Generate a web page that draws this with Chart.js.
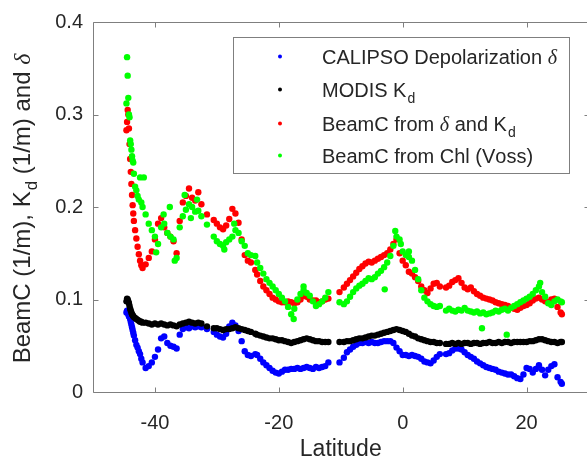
<!DOCTYPE html>
<html><head><meta charset="utf-8">
<script src="https://cdn.jsdelivr.net/npm/chart.js@4/dist/chart.umd.min.js"></script>
<style>html,body{margin:0;padding:0;background:#fff;overflow:hidden;width:587px;height:461px}canvas{display:block}</style>
</head><body><canvas id="c" width="600" height="461"></canvas>
<script>
const latitude = [
-44.6,-44.5,-44.4,-44.3,-44.2,-44.1,-44.0,-43.9,-43.8,-43.7,-43.6,-43.5,-43.4,-43.2,-43.0,-42.8,-42.6,-42.4,-42.2,-42.0,
-41.5,-41,-40.5,-40,-39.5,-39,-38.5,-38,-37.5,-37,-36.5,-36,-35.5,-35,-34.5,-34,-33.5,-33,-32.5,
-31.6,
-30.5,-30,-29.5,-29,-28.5,-28,-27.5,-27,-26.5,-26,-25.5,-25,-24.5,
-23.8,-23.5,-23,-22.5,-22,-21.5,-21,-20.5,-20,-19.5,-19,-18.5,-18,-17.5,-17,-16.5,-16,-15.5,-15,-14.5,-14,-13.5,-13,-12.5,-12,
-10.2,-9.5,-9,-8.5,-8,-7.5,-7,-6.5,-6,-5.5,-5,-4.5,-4,-3.5,-3,-2.5,-2,-1.5,-1,-0.5,0,0.5,1,1.5,2,2.5,3,3.5,4,4.5,5,5.5,6,
7,7.5,8,8.5,9,9.5,10,10.5,11,11.5,12,12.5,13,13.5,14,14.5,15,15.5,16,16.5,17,17.5,18,18.5,19,19.5,20,20.5,21,21.5,22,22.5,23,23.5,24,24.5,25,25.5,25.7
];
const depolarization = [
0.086,0.088,0.086,0.084,0.082,0.081,0.079,0.076,0.073,0.070,0.067,0.064,0.061,0.056,0.051,0.048,0.044,0.041,0.036,0.032,
0.026,0.028,0.032,0.038,0.046,0.058,0.060,0.053,0.050,0.049,0.047,0.062,0.068,0.070,0.069,0.071,0.070,0.071,0.070,
0.068,
0.065,0.062,0.060,0.059,0.063,0.071,0.075,0.072,0.066,0.055,0.044,0.040,0.039,
0.041,0.040,0.036,0.032,0.029,0.026,0.023,0.021,0.020,0.022,0.024,0.024,0.025,0.025,0.026,0.025,0.026,0.027,0.026,0.025,0.027,0.026,0.027,0.028,0.032,
0.032,0.037,0.043,0.046,0.049,0.051,0.053,0.053,0.054,0.053,0.054,0.053,0.053,0.054,0.055,0.055,0.055,0.053,0.048,0.044,0.040,0.040,0.039,0.040,0.039,0.038,0.036,0.033,0.032,0.031,0.034,0.038,0.041,
0.041,0.042,0.045,0.047,0.047,0.046,0.043,0.040,0.038,0.036,0.033,0.031,0.029,0.027,0.026,0.025,0.024,0.022,0.021,0.020,0.019,0.019,0.017,0.015,0.014,0.019,0.026,0.025,0.021,0.025,0.029,0.024,0.018,0.024,0.028,0.030,0.016,0.011,0.009
];
const kdModis = [
0.098,0.101,0.100,0.098,0.096,0.093,0.090,0.088,0.086,0.084,0.083,0.082,0.081,0.080,0.079,0.078,0.077,0.076,0.076,0.075,
0.075,0.074,0.073,0.074,0.073,0.074,0.073,0.072,0.073,0.072,0.071,0.073,0.074,0.075,0.076,0.075,0.074,0.075,0.074,
0.071,
0.069,0.069,0.068,0.067,0.068,0.068,0.069,0.070,0.069,0.068,0.067,0.066,0.065,
0.063,0.062,0.061,0.060,0.059,0.058,0.058,0.057,0.056,0.056,0.055,0.054,0.053,0.054,0.055,0.056,0.057,0.058,0.057,0.056,0.055,0.055,0.054,0.054,0.054,
0.054,0.054,0.055,0.055,0.056,0.057,0.058,0.058,0.059,0.060,0.061,0.061,0.062,0.063,0.064,0.065,0.066,0.067,0.068,0.067,0.066,0.065,0.063,0.061,0.060,0.058,0.057,0.056,0.055,0.054,0.054,0.053,0.053,
0.052,0.052,0.053,0.052,0.053,0.052,0.053,0.053,0.052,0.053,0.053,0.052,0.053,0.053,0.054,0.053,0.053,0.054,0.053,0.054,0.054,0.053,0.054,0.054,0.054,0.054,0.054,0.055,0.055,0.056,0.057,0.057,0.056,0.055,0.054,0.054,0.053,0.054,0.054
];
const beamcDeltaKd = [
0.283,0.292,0.305,0.300,0.285,0.268,0.252,0.238,0.225,0.213,0.202,0.193,0.185,0.175,0.166,0.157,0.149,0.142,0.137,0.134,
0.138,0.145,0.152,0.165,0.182,0.188,0.178,0.172,0.168,0.163,0.150,0.185,0.205,0.212,0.220,0.210,0.207,0.216,0.203,
0.192,
0.186,0.182,0.178,0.176,0.180,0.187,0.198,0.193,0.183,0.165,0.148,0.142,0.140,
0.132,0.127,0.120,0.114,0.110,0.106,0.102,0.100,0.098,0.097,0.097,0.098,0.097,0.096,0.097,0.100,0.104,0.103,0.100,0.099,0.099,0.097,0.098,0.100,0.101,
0.108,0.113,0.117,0.121,0.125,0.129,0.133,0.136,0.139,0.141,0.140,0.142,0.144,0.146,0.148,0.150,0.154,0.160,0.165,0.150,0.142,0.137,0.130,0.128,0.124,0.120,0.114,0.110,0.107,0.112,0.117,0.118,0.114,
0.113,0.115,0.119,0.121,0.123,0.118,0.113,0.111,0.113,0.109,0.106,0.104,0.102,0.101,0.100,0.099,0.097,0.096,0.095,0.094,0.093,0.091,0.090,0.089,0.091,0.093,0.094,0.096,0.099,0.101,0.102,0.100,0.098,0.097,0.100,0.101,0.092,0.086,0.084
];
const beamcVoss = [
0.312,0.362,0.342,0.318,0.300,0.297,0.272,0.268,0.262,0.255,0.250,0.248,0.236,0.222,0.218,0.212,0.208,0.232,0.205,0.200,
0.192,0.182,0.175,0.168,0.160,0.178,0.182,0.172,0.168,0.165,0.145,0.178,0.190,0.197,0.203,0.200,0.195,0.196,0.190,
0.181,
0.168,0.163,0.160,0.158,0.162,0.165,0.168,0.175,0.172,0.163,0.158,0.150,0.148,
0.147,0.140,0.134,0.128,0.122,0.118,0.114,0.110,0.106,0.102,0.098,0.092,0.084,0.090,0.100,0.106,0.110,0.107,0.104,0.098,0.093,0.095,0.098,0.102,0.108,
0.097,0.095,0.098,0.103,0.108,0.112,0.115,0.117,0.120,0.123,0.122,0.124,0.128,0.131,0.135,0.140,0.147,0.158,0.168,0.165,0.152,0.148,0.146,0.142,0.132,0.122,0.110,0.102,0.098,0.095,0.093,0.092,0.093,
0.088,0.090,0.088,0.087,0.089,0.088,0.091,0.088,0.087,0.086,0.087,0.085,0.086,0.084,0.085,0.086,0.088,0.087,0.089,0.090,0.088,0.091,0.093,0.095,0.097,0.099,0.101,0.103,0.106,0.110,0.114,0.108,0.103,0.096,0.094,0.098,0.100,0.098,0.097
];
const vossExtraLat = [-41.8,-39.8,-38.6,-37.6,-36.8,-35.2,-34.2,-33.2,-28.8,-27.2,-17.6,-16.0,-2.9,-1.2,-0.3,1.0,12.8,16.8,22.2];
const vossExtraVal = [0.232,0.151,0.192,0.200,0.142,0.213,0.188,0.208,0.154,0.182,0.079,0.114,0.111,0.174,0.160,0.152,0.069,0.062,0.118];

const xTicks = [-40, -20, 0, 20];
const yTicks = [0, 0.1, 0.2, 0.3, 0.4];
const seriesNames = ['CALIPSO Depolarization δ', 'MODIS K_d', 'BeamC from δ and K_d', 'BeamC from Chl (Voss)'];
const seriesColors = ['#0000ff', '#000000', '#ff0000', '#00ff00'];
const xLabel = 'Latitude';
const yLabel = 'BeamC (1/m), K_d (1/m) and δ';

const TEXT = '#262626';
const AXIS = '#7f7f7f';
const SANS = '"Liberation Sans", Arial, sans-serif';

function pts(lat, vals) { return lat.map((x, i) => ({x: x, y: vals[i]})); }
const seriesData = [
  pts(latitude, depolarization),
  pts(latitude, kdModis),
  pts(latitude, beamcDeltaKd),
  pts(latitude, beamcVoss).concat(pts(vossExtraLat, vossExtraVal))
];

// draw text with "_x" subscripts and italic delta
function drawRich(ctx, text, x, y, size, measureOnly) {
  let cx = x;
  for (let i = 0; i < text.length; i++) {
    let ch = text[i];
    if (ch === '_' && i + 1 < text.length) {
      ch = text[++i];
      ctx.font = Math.round(size * 0.72) + 'px ' + SANS;
      if (!measureOnly) ctx.fillText(ch, cx + 1, y + size * 0.28);
      cx += ctx.measureText(ch).width + 1;
    } else if (ch === 'δ') {
      ctx.font = 'italic ' + size + 'px "Liberation Serif", "DejaVu Serif", serif';
      if (!measureOnly) ctx.fillText(ch, cx, y);
      cx += ctx.measureText(ch).width;
    } else {
      ctx.font = size + 'px ' + SANS;
      if (!measureOnly) ctx.fillText(ch, cx, y);
      cx += ctx.measureText(ch).width;
    }
  }
  return cx - x;
}

const matlabFrame = {
  id: 'matlabFrame',
  afterDraw(chart) {
    const {ctx, chartArea: a, scales} = chart;
    const x = scales.x, y = scales.y;
    ctx.save();
    const L = Math.round(a.left) + 0.5, R = Math.round(a.right) + 0.5;
    const T = Math.round(a.top) + 0.5, B = Math.round(a.bottom) + 0.5;
    ctx.strokeStyle = AXIS; ctx.lineWidth = 1;
    ctx.beginPath();
    ctx.rect(L, T, R - L, B - T);
    const tl = 5;
    xTicks.forEach(v => {
      const px = Math.round(x.getPixelForValue(v)) + 0.5;
      ctx.moveTo(px, B); ctx.lineTo(px, B - tl);
      ctx.moveTo(px, T); ctx.lineTo(px, T + tl);
    });
    yTicks.forEach(v => {
      const py = Math.round(y.getPixelForValue(v)) + 0.5;
      ctx.moveTo(L, py); ctx.lineTo(L + tl, py);
      ctx.moveTo(R, py); ctx.lineTo(R - tl, py);
    });
    ctx.stroke();

    // legend
    ctx.fillStyle = '#ffffff';
    ctx.fillRect(233.5, 37.5, 336, 136);
    ctx.strokeStyle = AXIS;
    ctx.strokeRect(233.5, 37.5, 336, 136);
    const baselines = [64, 97, 131, 163];
    ctx.textBaseline = 'alphabetic'; ctx.textAlign = 'left';
    seriesNames.forEach((name, i) => {
      ctx.fillStyle = seriesColors[i];
      ctx.beginPath(); ctx.arc(280, baselines[i] - 7.5, 2, 0, Math.PI * 2); ctx.fill();
      ctx.fillStyle = TEXT;
      drawRich(ctx, name, 322, baselines[i], 20);
    });

    // y-axis title (rotated)
    const ySize = 24;
    const w = drawRich(ctx, yLabel, 0, 0, ySize, true);
    ctx.translate(30, (a.top + a.bottom) / 2 + 1.5);
    ctx.rotate(-Math.PI / 2);
    ctx.fillStyle = TEXT;
    drawRich(ctx, yLabel, -w / 2, 0, ySize);
    ctx.restore();
  }
};

new Chart(document.getElementById('c'), {
  type: 'scatter',
  data: {
    datasets: seriesData.map((d, i) => ({
      label: seriesNames[i],
      data: d,
      backgroundColor: seriesColors[i],
      borderWidth: 0,
      pointRadius: 3.2,
      pointHoverRadius: 3.2,
      order: 4 - i
    }))
  },
  options: {
    responsive: false,
    animation: false,
    devicePixelRatio: 1,
    layout: { padding: { top: 15, right: 11.5, left: 0, bottom: 0 } },
    plugins: { legend: { display: false }, tooltip: { enabled: false } },
    scales: {
      x: {
        type: 'linear', min: -50, max: 30,
        afterBuildTicks: s => { s.ticks = xTicks.map(v => ({value: v})); },
        afterFit: s => { s.height = 69; },
        grid: { display: false, drawTicks: false },
        border: { display: false },
        ticks: { color: TEXT, font: { family: SANS, size: 20 }, padding: 19, callback: v => String(v) },
        title: { display: true, text: xLabel, color: TEXT, font: { family: SANS, size: 23, lineHeight: 0.6 }, padding: { top: 0, bottom: 4 } }
      },
      y: {
        type: 'linear', min: 0, max: 0.4,
        afterBuildTicks: s => { s.ticks = yTicks.map(v => ({value: v})); },
        afterFit: s => { s.width = 93; },
        grid: { display: false, drawTicks: false },
        border: { display: false },
        ticks: { color: TEXT, font: { family: SANS, size: 20 }, padding: 10, callback: v => String(v) }
      }
    }
  },
  plugins: [matlabFrame]
});
</script>
</body></html>
